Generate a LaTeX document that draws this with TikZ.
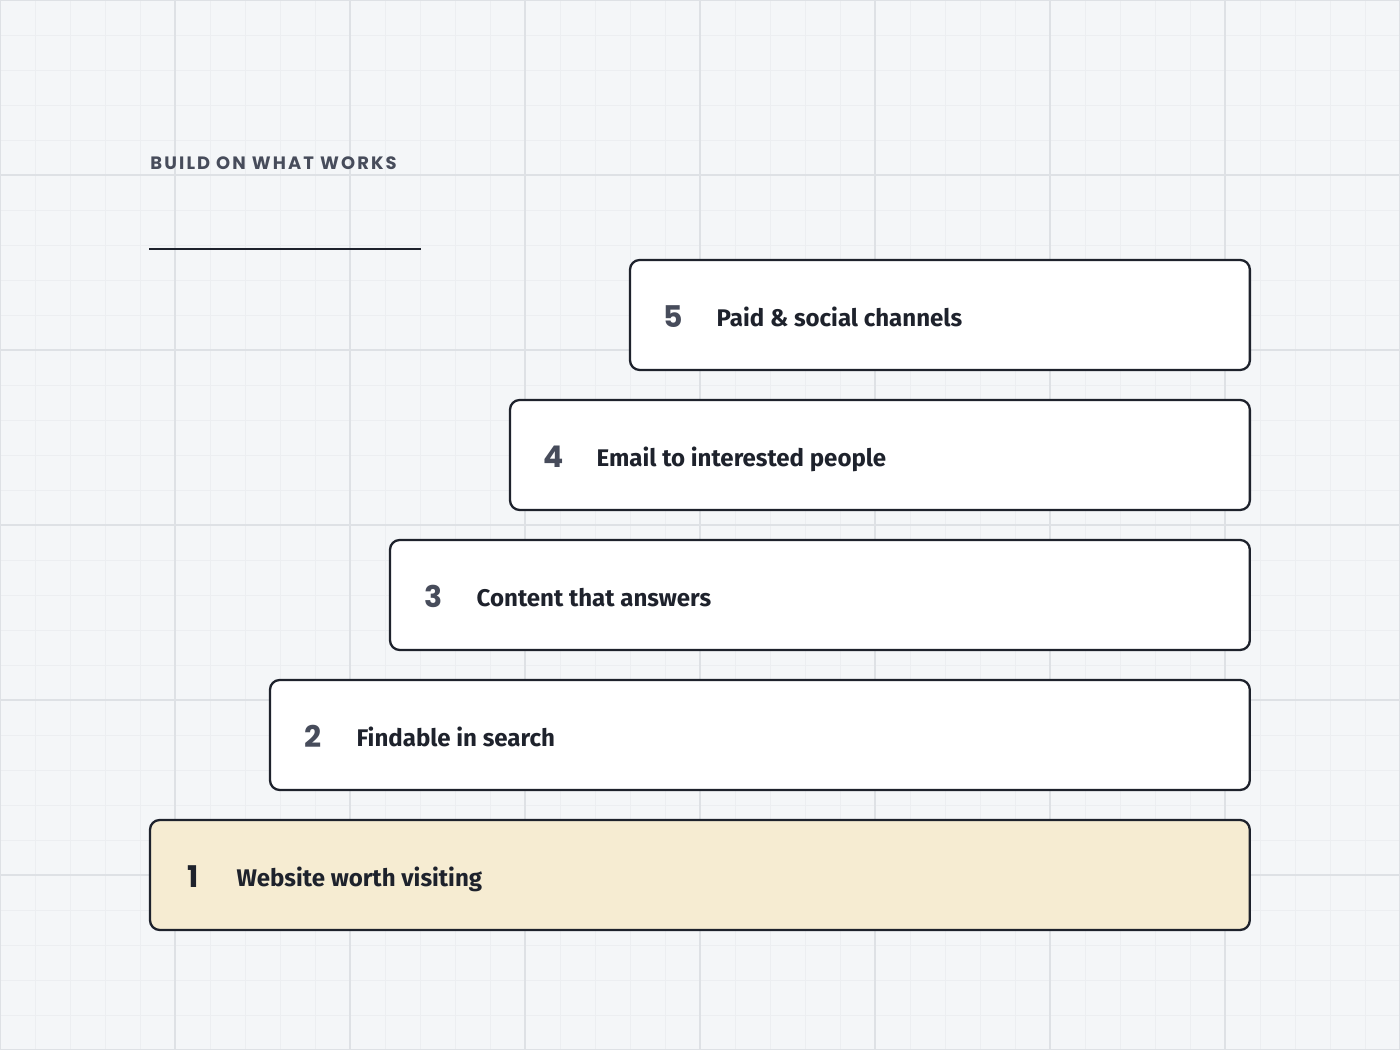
\documentclass[tikz,border=0pt]{standalone}
\usepackage{fontspec}
\setmainfont{Fira Sans}
\newfontfamily\numfont{Poppins}
\usetikzlibrary{positioning}
\definecolor{bgcol}{HTML}{F4F6F8}
\definecolor{minorgrid}{HTML}{ECEEF1}
\definecolor{majorgrid}{HTML}{DEE1E5}
\definecolor{inkcol}{HTML}{1E222C}
\definecolor{numcol}{HTML}{474C5B}
\definecolor{basecol}{HTML}{F6ECD2}

\begin{document}
\begin{tikzpicture}[x=0.02cm, y=-0.02cm,
    stepbox/.style={draw=inkcol, line width=1.3pt, rounded corners=5.5pt, fill=white,
      minimum height=2.2cm, inner sep=0pt, outer sep=0pt, anchor=north west},
    stepnum/.style={anchor=base, xshift=0.87cm, yshift=-1.36cm, text=numcol,
      font=\numfont\bfseries\fontsize{17}{20}\selectfont},
    steptext/.style={anchor=base west, xshift=1.61cm, yshift=-1.34cm, text=inkcol,
      font=\bfseries\fontsize{13.7}{16}\selectfont}]
    % draw background and grid
    \fill[bgcol] (0,0) rectangle (1400,1050);
    \useasboundingbox (0,0) rectangle (1400,1050);
    \foreach \x in {0,35,...,1400}
      \draw[minorgrid, line width=0.45pt] (\x,0) -- (\x,1050);
    \foreach \y in {0,35,...,1050}
      \draw[minorgrid, line width=0.45pt] (0,\y) -- (1400,\y);
    \foreach \x in {0,175,...,1400}
      \draw[majorgrid, line width=0.6pt] (\x,0) -- (\x,1050);
    \foreach \y in {0,175,...,1050}
      \draw[majorgrid, line width=0.6pt] (0,\y) -- (1400,\y);

    % draw title
    \node[anchor=base west, inner sep=0pt, text=numcol,
      font=\numfont\bfseries\addfontfeatures{LetterSpace=12}\fontsize{10.2}{12}\selectfont]
      (title) at (150,170) {BUILD ON WHAT WORKS};
    \draw[inkcol, line width=1.1pt] (149,249) -- (421,249);

    % draw steps
    \node[stepbox, minimum width=12.4cm] (box5) at (630,260) {};
    \node[stepbox, minimum width=14.8cm] (box4) at (510,400) {};
    \node[stepbox, minimum width=17.2cm] (box3) at (390,540) {};
    \node[stepbox, minimum width=19.6cm] (box2) at (270,680) {};
    \node[stepbox, minimum width=22cm, fill=basecol] (box1) at (150,820) {};

    % draw labels
    \node[stepnum] (num5) at (box5.north west) {5};
    \node[steptext] (text5) at (box5.north west) {Paid \& social channels};
    \node[stepnum] (num4) at (box4.north west) {4};
    \node[steptext] (text4) at (box4.north west) {Email to interested people};
    \node[stepnum] (num3) at (box3.north west) {3};
    \node[steptext] (text3) at (box3.north west) {Content that answers};
    \node[stepnum] (num2) at (box2.north west) {2};
    \node[steptext] (text2) at (box2.north west) {Findable in search};
    \node[stepnum, text=inkcol] (num1) at (box1.north west) {1};
    \node[steptext] (text1) at (box1.north west) {Website worth visiting};
\end{tikzpicture}
\end{document}
